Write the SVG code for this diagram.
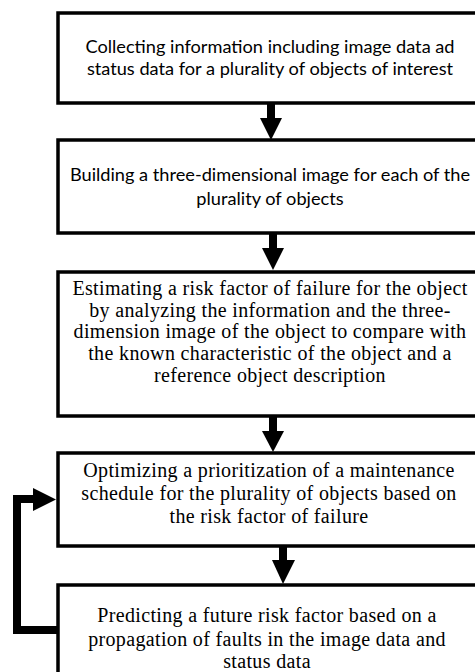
<svg xmlns="http://www.w3.org/2000/svg" width="475" height="672" viewBox="0 0 475 672">
<style>
.box{fill:#fff;stroke:#000;stroke-width:3.5}
.sans{font-family:Lato,"Liberation Sans",sans-serif;font-size:18.2px;fill:#000;text-anchor:middle}
.serif{font-family:"Liberation Serif",serif;font-size:20px;letter-spacing:0.35px;fill:#000;text-anchor:middle}
.shaft{stroke:#000;stroke-width:8;fill:none}
.head{fill:#000}
</style>
<rect width="475" height="672" fill="#fff"/>
<g id="connectors">
<line class="shaft" x1="271" y1="104" x2="271" y2="120"/>
<polygon class="head" points="260,118 282,118 271,140"/>
<line class="shaft" x1="273" y1="234" x2="273" y2="250"/>
<polygon class="head" points="262,248 284,248 273,270"/>
<line class="shaft" x1="273" y1="417" x2="273" y2="433"/>
<polygon class="head" points="262,431 284,431 273,452"/>
<line class="shaft" x1="283" y1="547" x2="283" y2="562"/>
<polygon class="head" points="272,560 295,560 283,584"/>
<polyline class="shaft" points="57,630 17,630 17,499 36,499"/>
<polygon class="head" points="33,488 56,499.5 33,511"/>
</g>
<g id="n1">
<rect class="box" x="58" y="13" width="424" height="90"/>
<text class="sans" x="270" y="53">Collecting information including image data ad</text>
<text class="sans" x="270" y="75">status data for a plurality of objects of interest</text>
</g>
<g id="n2">
<rect class="box" x="58" y="140" width="424" height="93"/>
<text class="sans" x="270" y="181">Building a three-dimensional image for each of the</text>
<text class="sans" x="270" y="205">plurality of objects</text>
</g>
<g id="n3">
<rect class="box" x="58" y="272" width="424" height="144"/>
<text class="serif" x="270" y="295">Estimating a risk factor of failure for the object</text>
<text class="serif" x="270" y="317">by analyzing the information and the three-</text>
<text class="serif" x="270" y="338">dimension image of the object to compare with</text>
<text class="serif" x="270" y="360">the known characteristic of the object and a</text>
<text class="serif" x="270" y="382">reference object description</text>
</g>
<g id="n4">
<rect class="box" x="58" y="453" width="424" height="93"/>
<text class="serif" x="269" y="477">Optimizing a prioritization of a maintenance</text>
<text class="serif" x="269" y="500">schedule for the plurality of objects based on</text>
<text class="serif" x="269" y="523">the risk factor of failure</text>
</g>
<g id="n5">
<rect class="box" x="58" y="585" width="424" height="110"/>
<text class="serif" x="267" y="622">Predicting a future risk factor based on a</text>
<text class="serif" x="267" y="646">propagation of faults in the image data and</text>
<text class="serif" x="267" y="668">status data</text>
</g>
</svg>
